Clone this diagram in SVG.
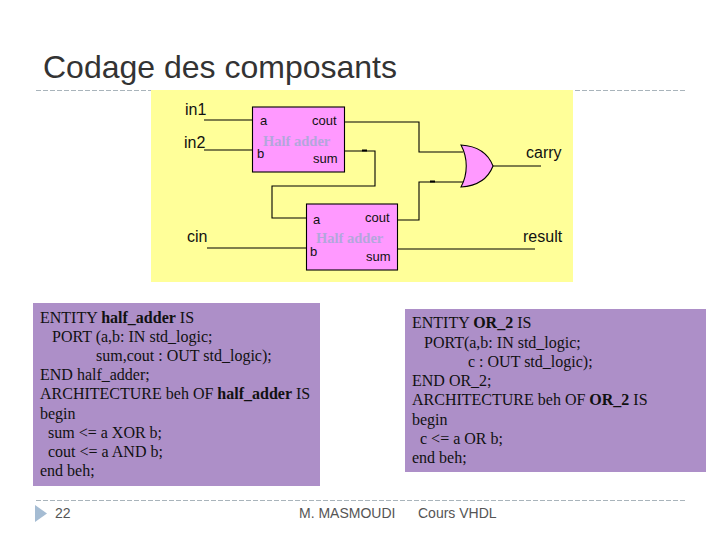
<svg xmlns="http://www.w3.org/2000/svg" width="720" height="540" viewBox="0 0 720 540">
<style>
.wire{fill:none;stroke:#000;stroke-width:1.1}
.stub{fill:none;stroke:#000;stroke-width:2}
.block{fill:#ff99ff;stroke:#000;stroke-width:1.1}
.lbl{font-family:"Liberation Sans",Arial,sans-serif;fill:#111}
.port{font-size:13px}
.sig{font-size:16px}
.ha{font-family:"Liberation Serif",serif;font-weight:bold;font-size:14.500px;fill:#b3a6dc}
.code{font-family:"Liberation Serif",serif;font-size:16px;fill:#111}
.code .b{font-weight:bold}
.panel{fill:#ad8fc8}
.foot{font-family:"Liberation Sans",Arial,sans-serif;font-size:14px;fill:#555}
.rule{stroke:#a9b4bb;stroke-width:1;stroke-dasharray:5 2;fill:none}
</style>
<rect width="720" height="540" fill="#fff"/>
<text x="43" y="78" font-family="'Liberation Sans',Arial,sans-serif" font-size="32px" fill="#333">Codage des composants</text>
<path class="rule" d="M36 90.500H686"/>
<path class="rule" d="M36 500.500H686"/>
<rect x="151" y="90" width="422" height="192" fill="#ffff99"/>
<g id="connectors">
<path class="wire" d="M204 120H252"/>
<path class="wire" d="M204 150H252"/>
<path class="wire" d="M207 248H306"/>
<path class="wire" d="M344 122H419V152H463"/>
<path class="wire" d="M344 151H375V186H272V218H306"/>
<path class="wire" d="M397 220H419V182H463"/>
<path class="wire" d="M493 166H541"/>
<path class="wire" d="M397 249H535"/>
<path class="stub" d="M362 150.500H367"/>
<path class="stub" d="M430 181.500H435"/>
</g>
<g id="half-adder-1">
<rect class="block" x="252.500" y="107" width="92" height="65"/>
<text class="lbl port" x="260" y="125">a</text>
<text class="lbl port" x="312" y="125">cout</text>
<text class="ha" x="263" y="146">Half adder</text>
<text class="lbl port" x="257" y="158">b</text>
<text class="lbl port" x="313" y="163">sum</text>
</g>
<g id="half-adder-2">
<rect class="block" x="306.500" y="204" width="91" height="66"/>
<text class="lbl port" x="313" y="224">a</text>
<text class="lbl port" x="365" y="222">cout</text>
<text class="ha" x="316" y="243">Half adder</text>
<text class="lbl port" x="310" y="256">b</text>
<text class="lbl port" x="366" y="261">sum</text>
</g>
<g id="or-gate">
<path class="block" d="M461 145C477 146 488 153 493 166C488 179 477 186 461 187C468 174 468 158 461 145Z"/>
</g>
<g id="signals">
<text class="lbl sig" x="185" y="115">in1</text>
<text class="lbl sig" x="184" y="148">in2</text>
<text class="lbl sig" x="187" y="242">cin</text>
<text class="lbl sig" x="526" y="158">carry</text>
<text class="lbl sig" x="523" y="242">result</text>
</g>
<g id="panel-half-adder">
<rect class="panel" x="33" y="303" width="287" height="183"/>
<text class="code" x="40" y="323">ENTITY <tspan class="b">half_adder</tspan> IS</text>
<text class="code" x="52" y="342">PORT (a,b: IN std_logic;</text>
<text class="code" x="96" y="361">sum,cout : OUT std_logic);</text>
<text class="code" x="40" y="380">END half_adder;</text>
<text class="code" x="40" y="399">ARCHITECTURE beh OF <tspan class="b">half_adder</tspan> IS</text>
<text class="code" x="40" y="419">begin</text>
<text class="code" x="48" y="438">sum &lt;= a XOR b;</text>
<text class="code" x="48" y="457">cout &lt;= a AND b;</text>
<text class="code" x="40" y="476">end beh;</text>
</g>
<g id="panel-or2">
<rect class="panel" x="405" y="309" width="301" height="163"/>
<text class="code" x="412" y="328">ENTITY <tspan class="b">OR_2</tspan> IS</text>
<text class="code" x="424" y="348">PORT(a,b: IN std_logic;</text>
<text class="code" x="468" y="367">c : OUT std_logic);</text>
<text class="code" x="412" y="386">END OR_2;</text>
<text class="code" x="412" y="405">ARCHITECTURE beh OF <tspan class="b">OR_2</tspan> IS</text>
<text class="code" x="412" y="425">begin</text>
<text class="code" x="420" y="444">c &lt;= a OR b;</text>
<text class="code" x="412" y="463">end beh;</text>
</g>
<g id="footer">
<polygon points="35,505 47,513.500 35,522" fill="#a5bcd3"/>
<text class="foot" x="55" y="518">22</text>
<text class="foot" x="299" y="518">M. MASMOUDI</text>
<text class="foot" x="418" y="518">Cours VHDL</text>
</g>
</svg>
